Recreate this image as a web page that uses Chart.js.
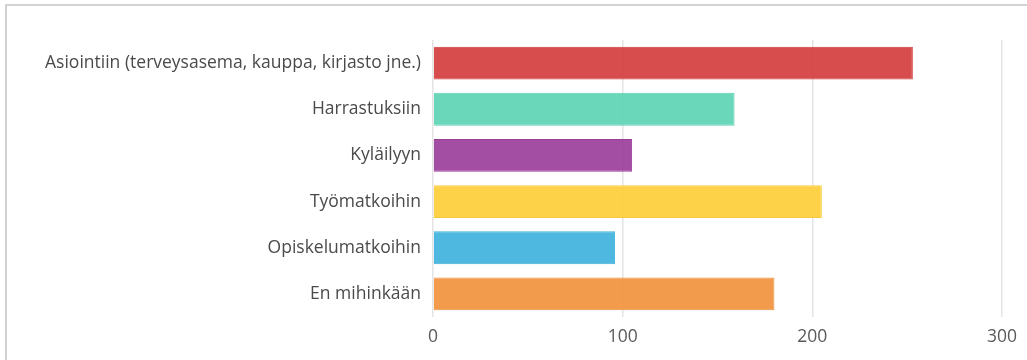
<!DOCTYPE html>
<html>
<head>
<meta charset="utf-8">
<script src="https://cdn.jsdelivr.net/npm/chart.js@4/dist/chart.umd.min.js"></script>
<style>
  html,body{margin:0;padding:0;background:#fff;overflow:hidden}
  #wrap{position:absolute;left:0;top:0;width:1027px;height:360px}
  #frame{position:absolute;left:5px;top:4px;right:0;bottom:0;border-left:2px solid #d2d2d2;border-top:2px solid #d2d2d2}
  canvas{position:absolute;left:0;top:0}
</style>
</head>
<body>
<div id="wrap">
  <div id="frame"></div>
  <canvas id="c" width="1027" height="360"></canvas>
</div>
<script>
var labels=['Asiointiin (terveysasema, kauppa, kirjasto jne.)','Harrastuksiin','Kyläilyyn','Työmatkoihin','Opiskelumatkoihin','En mihinkään'];
var values=[253,159,105,205,96,180];
var colors=['rgba(212,62,64,0.93)','rgba(98,212,182,0.95)','rgba(156,64,156,0.93)','rgba(253,208,62,0.95)','rgba(68,180,222,0.95)','rgba(241,150,66,0.95)'];
var edges=['#cf3c3e','#5fcfb2','#983d98','#f6c93a','#42afd9','#ec9140'];
var xTicks=[0,100,200,300];

Chart.defaults.font.family='"Open Sans", Lato, sans-serif';
Chart.defaults.color='#555';

new Chart(document.getElementById('c').getContext('2d'),{
  type:'bar',
  data:{labels:labels,datasets:[{data:values,backgroundColor:colors,borderColor:edges,borderWidth:1,barPercentage:0.71,categoryPercentage:1}]},
  options:{
    indexAxis:'y',responsive:false,animation:false,
    layout:{padding:{left:0,right:24,top:40,bottom:0}},
    plugins:{legend:{display:false},tooltip:{enabled:false}},
    scales:{
      x:{min:0,max:300,
        afterBuildTicks:function(s){s.ticks=xTicks.map(function(v){return {value:v};});},
        afterFit:function(s){s.height=43;},
        grid:{color:'#e4e4e4',lineWidth:1.5,drawTicks:false},
        border:{display:false},
        ticks:{padding:10,font:{size:17.5},color:'#5a5a5a'}},
      y:{
        afterFit:function(s){s.width=433;},
        grid:{display:false,drawTicks:false},
        border:{display:false},
        ticks:{padding:12,font:{size:17.5},color:'#4a4a4a'}}
    }
  }
});
</script>
</body>
</html>
